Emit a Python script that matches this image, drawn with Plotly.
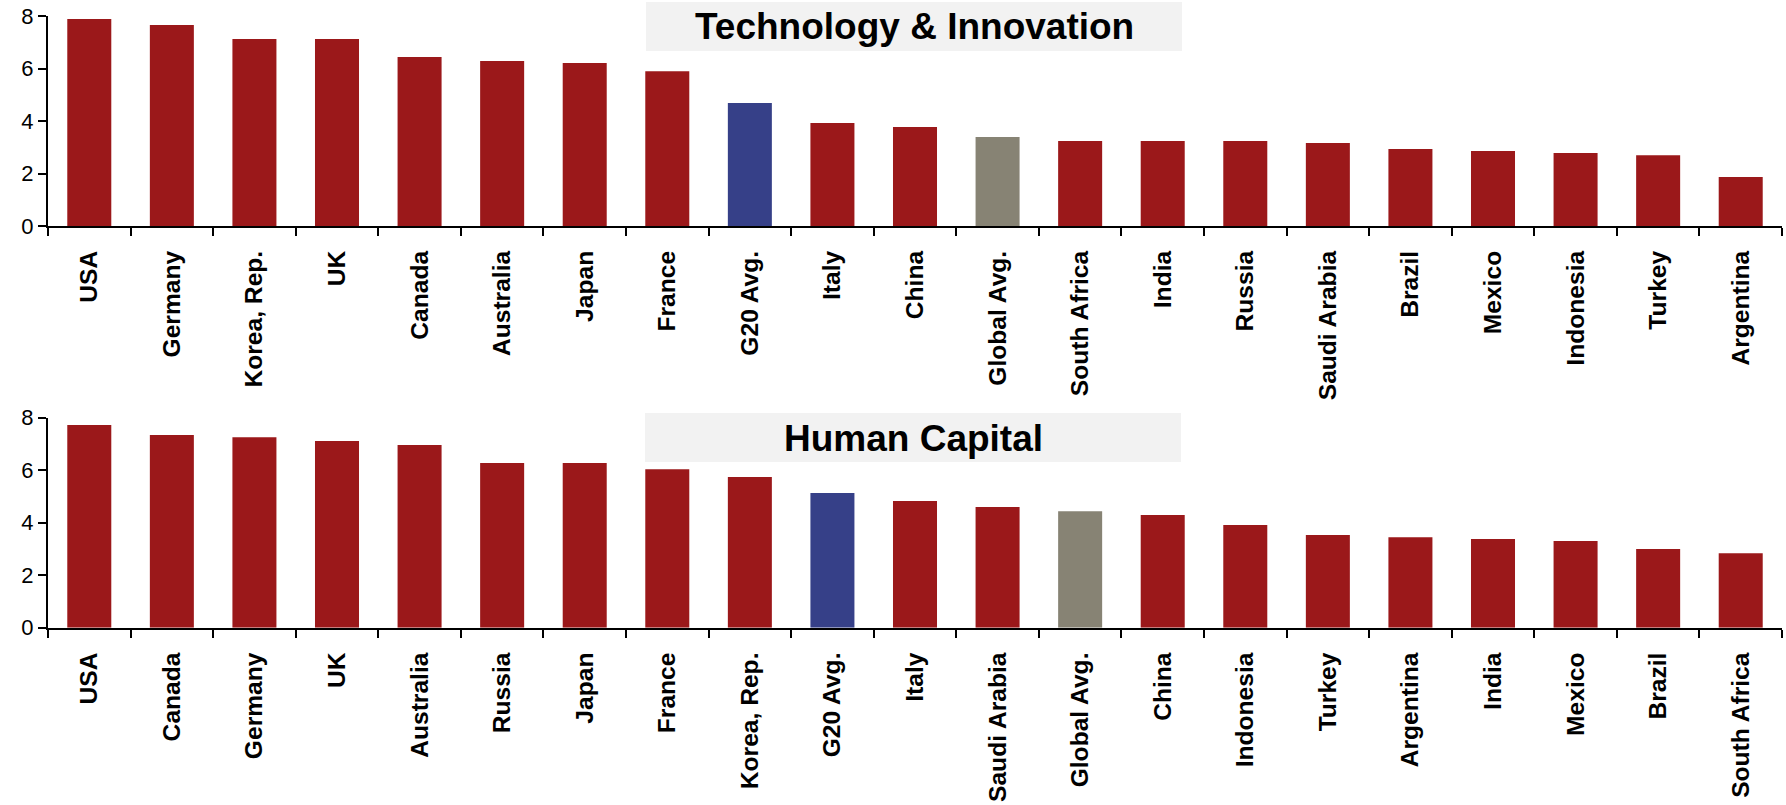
import plotly.graph_objects as go

top_cats = ["USA", "Germany", "Korea, Rep.", "UK", "Canada", "Australia", "Japan", "France",
            "G20 Avg.", "Italy", "China", "Global Avg.", "South Africa", "India", "Russia",
            "Saudi Arabia", "Brazil", "Mexico", "Indonesia", "Turkey", "Argentina"]
top_vals = [7.89, 7.66, 7.12, 7.12, 6.44, 6.29, 6.21, 5.90, 4.69, 3.92, 3.77, 3.39, 3.24,
            3.24, 3.24, 3.16, 2.93, 2.86, 2.78, 2.70, 1.87]

bot_cats = ["USA", "Canada", "Germany", "UK", "Australia", "Russia", "Japan", "France",
            "Korea, Rep.", "G20 Avg.", "Italy", "Saudi Arabia", "Global Avg.", "China",
            "Indonesia", "Turkey", "Argentina", "India", "Mexico", "Brazil", "South Africa"]
bot_vals = [7.72, 7.34, 7.26, 7.11, 6.96, 6.27, 6.27, 6.04, 5.74, 5.13, 4.83, 4.60, 4.44,
            4.29, 3.91, 3.53, 3.45, 3.38, 3.30, 3.00, 2.84]

top_title = "Technology & Innovation"
bot_title = "Human Capital"
y_ticks = [0, 2, 4, 6, 8]

RED = "#9B181A"
BLUE = "#364088"
GRAY = "#878374"


def colors(cats):
    out = []
    for c in cats:
        if c == "G20 Avg.":
            out.append(BLUE)
        elif c == "Global Avg.":
            out.append(GRAY)
        else:
            out.append(RED)
    return out


W, H = 1786, 805
L, R = 48, 4
FONT = "Liberation Sans, Arial, sans-serif"

fig = go.Figure()
fig.add_trace(go.Bar(x=top_cats, y=top_vals, marker=dict(color=colors(top_cats), line=dict(width=0)),
                     xaxis="x", yaxis="y", hoverinfo="x+y"))
fig.add_trace(go.Bar(x=bot_cats, y=bot_vals, marker=dict(color=colors(bot_cats), line=dict(width=0)),
                     xaxis="x2", yaxis="y2", hoverinfo="x+y"))


def py(px):
    return 1 - px / H


def pxx(px):
    return (px - L) / (W - L - R)


xcommon = dict(showline=True, linecolor="black", linewidth=2, ticks="outside", ticklen=8,
               tickwidth=2, tickcolor="black", tickson="boundaries", tickangle=-90,
               ticklabelstandoff=13, automargin=False,
               tickfont=dict(family=FONT, size=24.6, color="black", weight="bold"),
               showgrid=False, zeroline=False, fixedrange=True)
ycommon = dict(range=[0, 8], tickvals=y_ticks, showline=True, linecolor="black", linewidth=2,
               ticks="outside", ticklen=8, tickwidth=2, tickcolor="black", automargin=False,
               tickfont=dict(family=FONT, size=22, color="black"),
               showgrid=False, zeroline=False, fixedrange=True)

fig.update_layout(
    width=W, height=H,
    margin=dict(l=L, r=R, t=0, b=0, pad=0),
    paper_bgcolor="white", plot_bgcolor="white",
    showlegend=False, bargap=0.467,
    xaxis=dict(domain=[0, 1], anchor="y", **xcommon),
    yaxis=dict(domain=[py(226), py(16)], anchor="x", **ycommon),
    xaxis2=dict(domain=[0, 1], anchor="y2", **xcommon),
    yaxis2=dict(domain=[py(627.7), py(417.7)], anchor="x2", **ycommon),
    shapes=[
        dict(type="rect", xref="paper", yref="paper", x0=pxx(646), x1=pxx(1182),
             y0=py(51), y1=py(2), fillcolor="#F2F2F2", line=dict(width=0), layer="above"),
        dict(type="rect", xref="paper", yref="paper", x0=pxx(645), x1=pxx(1181),
             y0=py(462), y1=py(413), fillcolor="#F2F2F2", line=dict(width=0), layer="above"),
    ],
    annotations=[
        dict(text=top_title, xref="paper", yref="paper", x=pxx(914), y=py(27), showarrow=False,
             xanchor="center", yanchor="middle",
             font=dict(family=FONT, size=37, color="black", weight="bold")),
        dict(text=bot_title, xref="paper", yref="paper", x=pxx(913), y=py(438), showarrow=False,
             xanchor="center", yanchor="middle",
             font=dict(family=FONT, size=37, color="black", weight="bold")),
    ],
)

fig.write_html("out.html", config={"displayModeBar": False},
               post_script="document.body.style.margin='0';document.body.style.overflow='hidden';")
